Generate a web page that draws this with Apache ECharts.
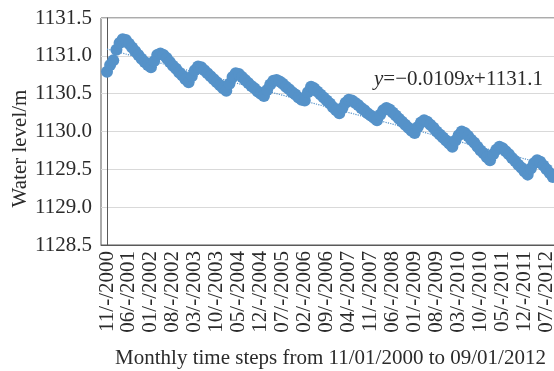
<!DOCTYPE html>
<html>
<head>
<meta charset="utf-8">
<script src="https://cdn.jsdelivr.net/npm/echarts@6/dist/echarts.min.js"></script>
<style>
  html, body { margin: 0; padding: 0; background: #fff; }
  #chart { width: 554px; height: 371px; }
</style>
</head>
<body>
<div id="chart"></div>
<script>
// Monthly water level (m), one value per month from Nov 2000 to Sep 2012
const waterLevel = [
  1130.79, 1130.88, 1130.94, 1131.08, 1131.17, 1131.22, 1131.21, 1131.16, 1131.11, 1131.06,
  1131.01, 1130.96, 1130.92, 1130.88, 1130.85, 1130.93, 1131.01, 1131.03, 1131.01, 1130.97,
  1130.92, 1130.87, 1130.83, 1130.78, 1130.74, 1130.69, 1130.65, 1130.73, 1130.81, 1130.86,
  1130.85, 1130.81, 1130.77, 1130.73, 1130.69, 1130.65, 1130.61, 1130.57, 1130.54, 1130.63,
  1130.72, 1130.77, 1130.76, 1130.72, 1130.68, 1130.64, 1130.60, 1130.57, 1130.53, 1130.50,
  1130.47, 1130.55, 1130.62, 1130.67, 1130.68, 1130.66, 1130.63, 1130.59, 1130.56, 1130.52,
  1130.49, 1130.45, 1130.42, 1130.41, 1130.52, 1130.59, 1130.57, 1130.53, 1130.49, 1130.45,
  1130.41, 1130.37, 1130.32, 1130.28, 1130.24, 1130.31, 1130.38, 1130.42, 1130.41, 1130.38,
  1130.35, 1130.31, 1130.28, 1130.24, 1130.21, 1130.18, 1130.15, 1130.22, 1130.28, 1130.31,
  1130.29, 1130.25, 1130.21, 1130.17, 1130.13, 1130.09, 1130.05, 1130.01, 1129.98, 1130.06,
  1130.12, 1130.15, 1130.13, 1130.09, 1130.05, 1130.00, 1129.96, 1129.92, 1129.88, 1129.84,
  1129.80, 1129.88, 1129.95, 1130.00, 1129.98, 1129.94, 1129.89, 1129.85, 1129.80, 1129.75,
  1129.71, 1129.66, 1129.62, 1129.70, 1129.76, 1129.80, 1129.78, 1129.74, 1129.70, 1129.65,
  1129.61, 1129.56, 1129.52, 1129.47, 1129.43, 1129.51, 1129.58, 1129.62, 1129.60, 1129.55,
  1129.50, 1129.45, 1129.40
];

// Labelled months, every seventh step
const tickLabels = [
  '11/-/2000', '06/-/2001', '01/-/2002', '08/-/2002', '03/-/2003', '10/-/2003', '05/-/2004',
  '12/-/2004', '07/-/2005', '02/-/2006', '09/-/2006', '04/-/2007', '11/-/2007', '06/-/2008',
  '01/-/2009', '08/-/2009', '03/-/2010', '10/-/2010', '05/-/2011', '12/-/2011', '07/-/2012'
];
const tickStep = 7;
const tickPositions = tickLabels.map((_, k) => k * tickStep);

// Linear trend: y = slope * x + intercept, x counted from 1
const trendSlope = -0.0109;
const trendIntercept = 1131.1;

const FONT = 'Liberation Serif';
const TEXT = '#2b2b2b';
const BLUE = '#5592c9';
const AXIS = '#595959';

const points = waterLevel.map((v, i) => [i, v]);
const lastIdx = waterLevel.length - 1;
const trendAt = i => trendSlope * (i + 1) + trendIntercept;
const trendPoints = [[0, trendAt(0)], [lastIdx, trendAt(lastIdx)]];

const chart = echarts.init(document.getElementById('chart'), null, { renderer: 'canvas' });
chart.setOption({
  animation: false,
  backgroundColor: '#ffffff',
  grid: {
    left: 101, top: 18, right: -12, bottom: 126,
    outerBoundsMode: 'none',
    containLabel: false,
    show: true, borderColor: AXIS, borderWidth: 1
  },
  xAxis: {
    type: 'value',
    min: -1.91,
    max: 146.2,
    axisLine: { show: true, lineStyle: { color: AXIS, width: 1 } },
    axisTick: { show: false },
    splitLine: { show: false },
    axisLabel: {
      customValues: tickPositions,
      rotate: 90,
      margin: 6,
      fontFamily: FONT,
      fontSize: 21,
      color: TEXT,
      formatter: v => tickLabels[Math.round(v / tickStep)] || ''
    },
    name: 'Monthly time steps from 11/01/2000 to 09/01/2012',
    nameLocation: 'middle',
    nameGap: 103,
    nameMoveOverlap: false,
    nameTextStyle: { fontFamily: FONT, fontSize: 21, color: TEXT, padding: [0, 6, 0, 0] }
  },
  yAxis: {
    type: 'value',
    min: 1128.5,
    max: 1131.5,
    interval: 0.5,
    axisLine: { show: true, lineStyle: { color: AXIS, width: 1 } },
    axisTick: { show: false },
    splitLine: { show: true, lineStyle: { color: '#d9d9d9', width: 1 } },
    axisLabel: {
      margin: 9,
      fontFamily: FONT,
      fontSize: 21,
      color: TEXT,
      formatter: v => v.toFixed(1)
    },
    name: 'Water level/m',
    nameLocation: 'middle',
    nameGap: 70,
    nameMoveOverlap: false,
    nameTextStyle: { fontFamily: FONT, fontSize: 21, color: TEXT, padding: [0, 34, 0, 0] }
  },
  series: [{
    // dotted linear trend, drawn beneath the points
    type: 'line',
    data: trendPoints,
    z: 1,
    symbol: 'none',
    silent: true,
    lineStyle: { type: 'dotted', color: BLUE, width: 1.2 }
  }, {
    type: 'scatter',
    data: points,
    z: 2,
    symbol: 'circle',
    symbolSize: 12,
    itemStyle: { color: BLUE, opacity: 1 }
  }],
  graphic: [{
    type: 'text',
    left: 374,
    top: 69,
    style: {
      text: '{i|y}{n|=−0.0109}{i|x}{n|+1131.1}',
      rich: {
        i: { fontFamily: FONT, fontSize: 21, fontStyle: 'italic', fill: TEXT },
        n: { fontFamily: FONT, fontSize: 21, fill: TEXT }
      }
    }
  }]
});
</script>
</body>
</html>
